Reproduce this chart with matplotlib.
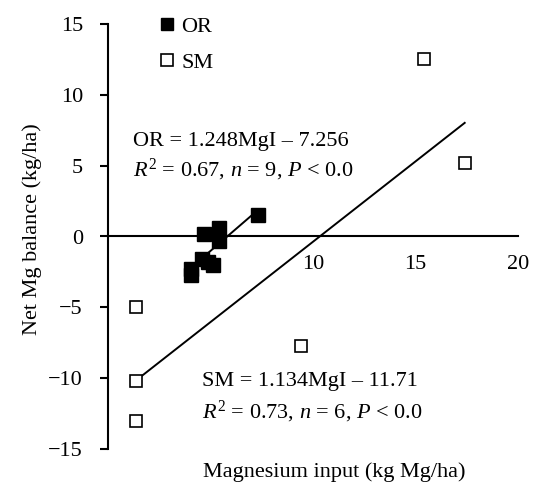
import matplotlib
matplotlib.use("Agg")
import matplotlib.pyplot as plt
from matplotlib.lines import Line2D

# police
plt.rcParams['font.family'] = 'Liberation Serif'
plt.rcParams['mathtext.fontset'] = 'custom'
plt.rcParams['mathtext.rm'] = 'Liberation Serif'
plt.rcParams['mathtext.it'] = 'Liberation Serif:italic'
taille = 16

# données
or_x = [7.3, 5.4, 4.7, 5.4, 4.6, 4.9, 5.1, 4.05, 4.05]
or_y = [1.5, 0.6, 0.2, -0.35, -1.6, -1.8, -2.0, -2.3, -2.7]
sm_x = [1.37, 1.37, 1.37, 9.4, 15.4, 17.4]
sm_y = [-5.0, -10.2, -13.0, -7.7, 12.5, 5.2]

# droites de régression (pente, constante, étendue en x)
or_coef = [1.248, -7.256]
or_range = [4.6, 7.3]
sm_coef = [1.134, -11.71]
sm_range = [1.37, 17.4]

xticks = [10, 15, 20]
yticks = [-15, -10, -5, 0, 5, 10, 15]

fig = plt.figure(figsize=(5.33, 4.86), dpi=100)
ax = fig.add_axes([108/533, 1-449/486, 410/533, 425/486])

# droites
ax.plot(or_range, [or_coef[0]*v + or_coef[1] for v in or_range], color='black', lw=1.4, zorder=2)
ax.plot(sm_range, [sm_coef[0]*v + sm_coef[1] for v in sm_range], color='black', lw=1.4, zorder=2)

# points
ax.plot(or_x, or_y, 's', color='black', ms=9.5, mec='black', zorder=3)
ax.plot(sm_x, sm_y, 's', mfc='white', mec='black', ms=8.5, mew=1.2, zorder=3)

ax.set_xlim(0, 20)
ax.set_ylim(-15, 15)

# axes
for s in ['top', 'right']:
    ax.spines[s].set_visible(False)
ax.spines['bottom'].set_position(('data', 0))
ax.spines['left'].set_linewidth(1.5)
ax.spines['bottom'].set_linewidth(1.5)
ax.set_xticks(xticks)
ax.set_yticks(yticks)
ax.set_yticklabels([str(t).replace('-', '\u2212') for t in yticks])
ax.tick_params(axis='x', length=0, pad=13, labelsize=taille)
ax.tick_params(axis='y', direction='out', length=6, width=1.5, pad=12, labelsize=taille)

# équations
ax.text(1.22, 6.7, 'OR = 1.248MgI \u2013 7.256', fontsize=taille, va='center', ha='left')
ax.text(1.22, 4.73, '$R^2$ = 0.67, $n$ = 9, $P$ < 0.0', fontsize=taille, va='center', ha='left')
ax.text(4.59, -10.23, 'SM = 1.134MgI \u2013 11.71', fontsize=taille, va='center', ha='left')
ax.text(4.59, -12.35, '$R^2$ = 0.73, $n$ = 6, $P$ < 0.0', fontsize=taille, va='center', ha='left')

# titres des axes
fig.text(334/533, 1-472/486, 'Magnesium input (kg Mg/ha)', fontsize=taille, ha='center', va='center')
fig.text(32/533, 1-229/486, 'Net Mg balance (kg/ha)', fontsize=taille, ha='center', va='center', rotation=90)

# légende
handles = [Line2D([], [], ls='none', marker='s', color='black', ms=9),
           Line2D([], [], ls='none', marker='s', mfc='white', mec='black', ms=8.5, mew=1.2)]
ax.legend(handles, ['OR', 'SM'], loc='upper left', bbox_to_anchor=(159/533, 1-16/486),
          bbox_transform=fig.transFigure, frameon=False, fontsize=taille,
          handlelength=0.7, handletextpad=0.3, borderpad=0, borderaxespad=0, labelspacing=0.7)

fig.savefig('out.png', dpi=100)
